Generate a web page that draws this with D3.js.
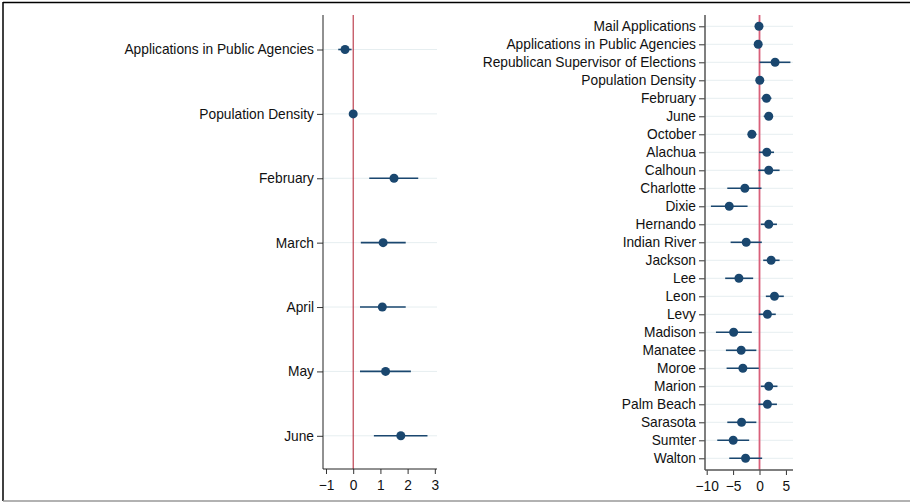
<!DOCTYPE html>
<html><head><meta charset="utf-8">
<script src="https://cdn.jsdelivr.net/npm/d3@7"></script>
<style>body{margin:0;background:#fff}svg{display:block}text{font-family:"Liberation Sans",Arial,sans-serif}</style>
</head><body>
<svg id="c" width="910" height="503"></svg>
<script>
// Left panel data
const leftVars = ["Applications in Public Agencies","Population Density","February","March","April","May","June"];
const leftEst  = [-0.30, 0.00, 1.50, 1.10, 1.07, 1.19, 1.75];
const leftLo   = [-0.55,-0.03, 0.59, 0.28, 0.25, 0.25, 0.76];
const leftHi   = [-0.06, 0.03, 2.39, 1.93, 1.93, 2.12, 2.73];
const leftTicks = [-1,0,1,2,3];

// Right panel data
const rightVars = ["Mail Applications","Applications in Public Agencies","Republican Supervisor of Elections","Population Density","February","June","October","Alachua","Calhoun","Charlotte","Dixie","Hernando","Indian River","Jackson","Lee","Leon","Levy","Madison","Manatee","Moroe","Marion","Palm Beach","Sarasota","Sumter","Walton"];
const rightEst = [-0.10,-0.25, 2.95, 0.05, 1.32, 1.75,-1.45, 1.38, 1.75,-2.77,-5.73, 1.75,-2.52, 2.20,-3.90, 2.83, 1.50,-4.90,-3.47,-3.15, 1.75, 1.50,-3.40,-4.98,-2.64];
const rightLo  = [-0.30,-0.45, 0.00,-0.10, 0.38, 0.80,-2.20,-0.08,-0.25,-6.10,-9.20, 0.25,-5.47, 0.70,-6.50, 1.20,-0.13,-8.25,-6.36,-6.23, 0.25,-0.20,-6.10,-8.00,-5.73];
const rightHi  = [ 0.10,-0.05, 5.85, 0.20, 2.26, 2.30,-0.60, 2.75, 3.80, 0.38,-2.26, 3.30, 0.44, 3.80,-1.20, 4.60, 3.08,-1.45,-0.60,-0.13, 3.40, 3.30,-0.60,-1.96, 0.50];
const rightTicks = [-10,-5,0,5];

const svg = d3.select("#c");
const navy = "#1a476f";
const fs = 13.75;

// frame
svg.append("line").attr("x1",3).attr("x2",910).attr("y1",2.5).attr("y2",2.5).attr("stroke","#000").attr("stroke-width",1.5);
svg.append("line").attr("x1",3).attr("x2",3).attr("y1",2).attr("y2",501).attr("stroke","#000").attr("stroke-width",1.5);
svg.append("line").attr("x1",3).attr("x2",910).attr("y1",501).attr("y2",501).attr("stroke","#999").attr("stroke-width",1.5);

function panel(cfg){
  const x = d3.scaleLinear().domain(cfg.domain).range([cfg.x0, cfg.x1]);
  const y = d3.scalePoint().domain(cfg.vars).range([cfg.yTop, cfg.yBot]);
  const g = svg.append("g");
  // grid
  g.selectAll(".grid").data(cfg.vars).join("line")
    .attr("x1",cfg.x0).attr("x2",cfg.x1)
    .attr("y1",d=>y(d)).attr("y2",d=>y(d))
    .attr("stroke","#e6eef0").attr("stroke-width",1);
  // zero line
  g.append("line").attr("x1",x(0)).attr("x2",x(0)).attr("y1",cfg.axTop).attr("y2",cfg.axBot)
    .attr("stroke",cfg.zeroColor).attr("stroke-width",cfg.zeroW);
  // CIs
  g.selectAll(".ci").data(cfg.vars).join("line")
    .attr("x1",(d,i)=>x(cfg.lo[i])).attr("x2",(d,i)=>x(cfg.hi[i]))
    .attr("y1",d=>y(d)).attr("y2",d=>y(d))
    .attr("stroke",navy).attr("stroke-width",1.6);
  // points
  g.selectAll(".pt").data(cfg.vars).join("circle")
    .attr("cx",(d,i)=>x(cfg.est[i])).attr("cy",d=>y(d)).attr("r",4.5)
    .attr("fill",navy);
  // y axis
  const ya = g.append("g").attr("transform",`translate(${cfg.x0},0)`)
    .call(d3.axisLeft(y).tickSize(6).tickPadding(3));
  ya.select(".domain").remove();
  ya.append("line").attr("x1",0).attr("x2",0).attr("y1",cfg.axTop).attr("y2",cfg.axBot)
    .attr("stroke",cfg.axColor).attr("stroke-width",cfg.axW);
  ya.selectAll(".tick line").attr("stroke","#333");
  ya.selectAll("text").attr("font-size",fs).attr("fill","#111").attr("font-family",'"Liberation Sans",Arial,sans-serif');
  // x axis
  const xa = g.append("g").attr("transform",`translate(0,${cfg.axBot})`)
    .call(d3.axisBottom(x).tickValues(cfg.ticks).tickSize(5).tickPadding(6).tickFormat(d3.format("d")));
  xa.select(".domain").remove();
  xa.append("line").attr("x1",cfg.x0).attr("x2",cfg.x1).attr("y1",0).attr("y2",0)
    .attr("stroke",cfg.axColor).attr("stroke-width",cfg.axW);
  xa.selectAll(".tick line").attr("stroke","#333");
  xa.selectAll("text").attr("font-size",fs).attr("fill","#111").attr("font-family",'"Liberation Sans",Arial,sans-serif');
}

panel({vars:leftVars, est:leftEst, lo:leftLo, hi:leftHi, ticks:leftTicks,
  domain:[-1.11,3.08], x0:323, x1:437, yTop:49.5, yBot:435.8, axTop:15, axBot:469,
  zeroColor:"#b01c2e", zeroW:1, axColor:"#222", axW:1});
panel({vars:rightVars, est:rightEst, lo:rightLo, hi:rightHi, ticks:rightTicks,
  domain:[-10.32,6.34], x0:705, x1:793, yTop:26.3, yBot:458.3, axTop:15, axBot:470,
  zeroColor:"#d9607a", zeroW:1.8, axColor:"#555", axW:1.5});
</script>
</body></html>
